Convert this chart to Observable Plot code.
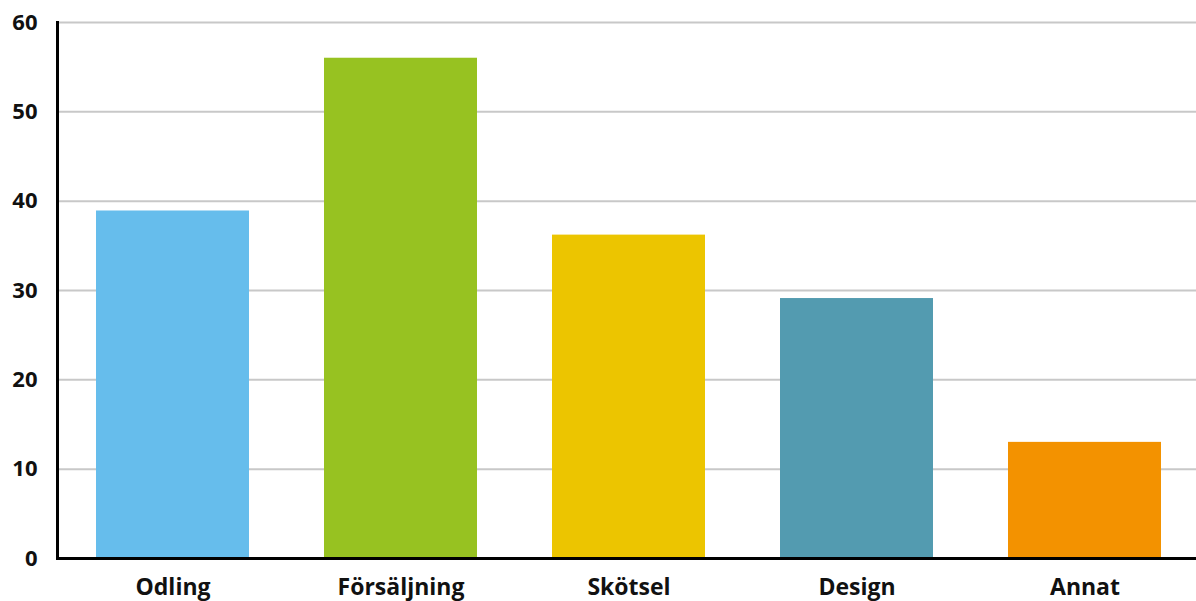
<!DOCTYPE html>
<html>
<head>
<meta charset="utf-8">
<script src="https://cdn.jsdelivr.net/npm/d3@7"></script>
<script src="https://cdn.jsdelivr.net/npm/@observablehq/plot@0.6"></script>
<style>
  html, body { margin: 0; padding: 0; background: #fff; overflow: hidden; }
  #chart svg { display: block; overflow: hidden; }
</style>
</head>
<body>
<div id="chart"></div>
<script>
const categories = ["Odling", "Försäljning", "Skötsel", "Design", "Annat"];
const values = [38.9, 56, 36.2, 29.1, 13];
const colors = ["#66bdec", "#97c221", "#ecc500", "#539bb0", "#f39200"];
const yTicks = [0, 10, 20, 30, 40, 50, 60];

const data = categories.map((c, i) => ({category: c, value: values[i], color: colors[i]}));

const chart = Plot.plot({
  width: 1196,
  height: 601,
  marginLeft: 57,
  marginRight: -3,
  marginTop: 22,
  marginBottom: 43,
  style: {fontFamily: "'Open Sans', sans-serif", fontWeight: "bold", color: "#111", background: "#fff"},
  x: {domain: categories, paddingInner: 0.33, paddingOuter: 0.166, label: null},
  y: {domain: [0, 60], ticks: yTicks, label: null},
  marks: [
    Plot.ruleY(yTicks.filter(d => d > 0), {stroke: "#c8c8c8", strokeWidth: 2}),
    Plot.barY(data, {x: "category", y: "value", fill: "color"}),
    Plot.ruleY([0], {stroke: "#000", strokeWidth: 3}),
    Plot.frame({anchor: "left", stroke: "#000", strokeWidth: 3}),
    Plot.axisY({ticks: yTicks, tickSize: 0, tickPadding: 20, fontSize: 22, fill: "#111"}),
    Plot.axisX({tickSize: 0, tickPadding: 20, fontSize: 23, fill: "#111"})
  ]
});
document.getElementById("chart").appendChild(chart);
</script>
</body>
</html>
